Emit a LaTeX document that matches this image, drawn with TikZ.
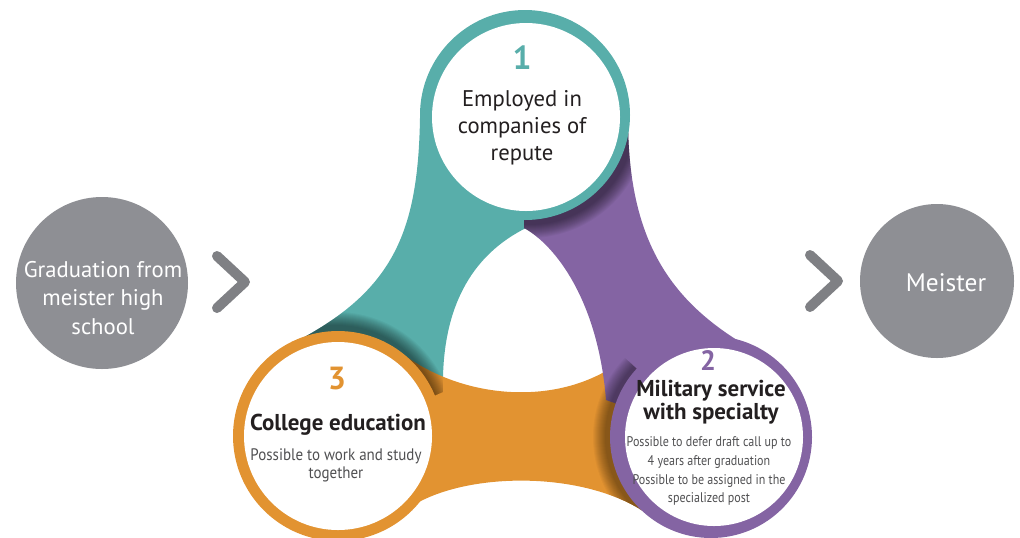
\documentclass[tikz,border=0pt]{standalone}
\usepackage{fontspec}
\setmainfont{PT Sans}
\newfontfamily\condA{PT Sans}[FakeStretch=0.9]
\newfontfamily\condB{PT Sans}[FakeStretch=0.86]
\definecolor{tealc}{HTML}{58AEAA}
\definecolor{purpc}{HTML}{8464A3}
\definecolor{oranc}{HTML}{E29331}
\definecolor{grayc}{HTML}{8E8F94}
\definecolor{chevc}{HTML}{7F8084}
\definecolor{txtc}{HTML}{231F20}
\definecolor{subc}{HTML}{505052}
\begin{document}
\begin{tikzpicture}[x=0.75pt,y=-0.75pt,
  ring/.style={circle,inner sep=0pt,minimum size=#1*1.5pt},
  hole/.style={circle,inner sep=0pt,fill=white,minimum size=#1*1.5pt},
  endcirc/.style={circle,inner sep=0pt,fill=grayc,minimum size=#1*1.5pt},
  chevron/.style={draw=chevc,line width=7.5pt,line cap=round,line join=round},
  numtxt/.style={inner sep=0pt,font=\fontsize{#1}{#1}\selectfont\bfseries},
  bodytxt/.style={inner sep=0pt,align=center,text=txtc,font=\fontsize{17}{20.3}\selectfont},
  headtxt/.style={inner sep=0pt,align=center,text=txtc,font=\fontsize{17.2}{17.3}\selectfont\bfseries},
  subtxt/.style={inner sep=0pt,align=center,text=subc},
  whitetxt/.style={inner sep=0pt,align=center,text=white}]
\useasboundingbox (0,0) rectangle (1020,537);
\clip (0,0) rectangle (1020,537);

\def\tealband{(420,118) .. controls (418,230) and (395,290) .. (295,342) -- (338,436) -- (443,392) .. controls (441,310) and (470,255) .. (528,227) -- (525,115) -- cycle}
\def\orangeband{(400,352) .. controls (465,402) and (565,407) .. (625,358) -- (711,437) -- (655,520) .. controls (590,465) and (440,470) .. (395,520) -- (338,436) -- cycle}
\def\purpleband{(525,115) -- (524,228) .. controls (555,245) and (598,300) .. (606,400) -- (711,437) -- (745,345) .. controls (670,300) and (628,240) .. (628,118) -- cycle}

% bands
\fill[tealc] \tealband;
\fill[oranc] \orangeband;
\fill[purpc] \purpleband;

% shadows
\begin{scope}
  \clip \purpleband;
  \foreach \rr in {106,...,119} \fill[black,opacity=0.04] (529,119) circle[radius=\rr*0.75pt];
\end{scope}
\begin{scope}
  \clip \tealband;
  \foreach \rr in {106,...,119} \fill[black,opacity=0.04] (336,431) circle[radius=\rr*0.75pt];
\end{scope}
\begin{scope}
  \clip \orangeband;
  \foreach \rr in {102,...,114} \fill[black,opacity=0.035] (707,437) circle[radius=\rr*0.75pt];
\end{scope}

% rings
\node[ring=105,fill=tealc] (r1) at (525,115) {};
\node[hole=94] (w1) at (526,117) {};
\node[ring=105,fill=oranc] (r3) at (338,436) {};
\node[hole=94] (w3) at (338,436) {};
\node[ring=101,fill=purpc] (r2) at (711,437) {};
\node[hole=89] (w2) at (714,437) {};

% end circles
\node[endcirc=86] (start) at (102,283) {};
\node[endcirc=77] (goal) at (937,281) {};

% chevrons
\coordinate (c1a) at (217,256);
\coordinate (c1b) at (245,282);
\coordinate (c1c) at (217,308);
\coordinate (c2a) at (810,255);
\coordinate (c2b) at (838,281);
\coordinate (c2c) at (810,307);
\draw[chevron] (c1a) -- (c1b) -- (c1c);
\draw[chevron] (c2a) -- (c2b) -- (c2c);

% texts
\node[numtxt=25,text=tealc] (n1) at (522,58) {1};
\node[bodytxt] (t1) at (522,128) {Employed in\\companies of\\repute};

\node[numtxt=24,text=oranc] (n3) at (337,379) {3};
\node[headtxt] (h3) at (338,425) {College education};
\node[subtxt,font=\condA\fontsize{12.5}{13.5}\selectfont] (s3) at (336,465) {Possible to work and study\\together};

\node[numtxt=21,text=purpc] (n2) at (708,360) {2};
\node[headtxt] (h2) at (711,402) {Military service\\with specialty};
\node[subtxt,font=\condB\fontsize{10.5}{14.2}\selectfont] (s2) at (709,471) {Possible to defer draft call up to\\4 years after graduation\\Possible to be assigned in the\\specialized post};

\node[whitetxt,font=\fontsize{17}{21.7}\selectfont] (st) at (103,298) {Graduation from\\meister high\\school};
\node[whitetxt,font=\fontsize{19}{19}\selectfont] (gt) at (946,283) {Meister};
\end{tikzpicture}
\end{document}
